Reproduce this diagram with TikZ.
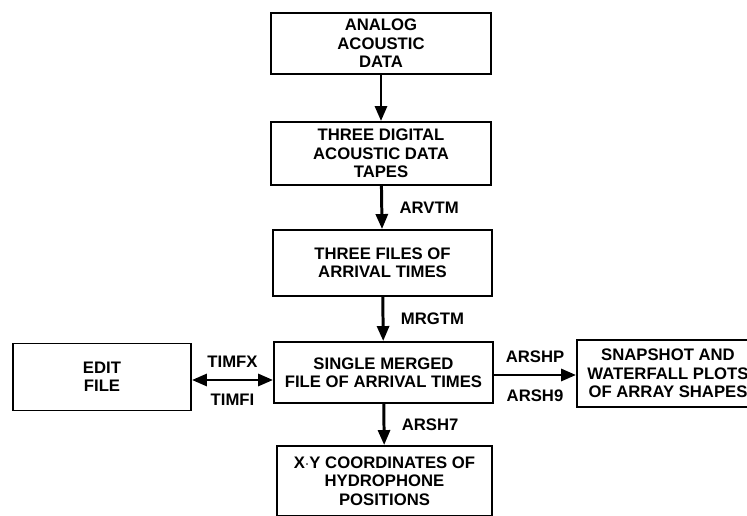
\documentclass[tikz,border=0pt]{standalone}
\usepackage{fontspec}
\setmainfont{Liberation Sans}
\usetikzlibrary{arrows.meta}

\begin{document}
\begin{tikzpicture}[x=0.02cm, y=-0.02cm,
    every node/.style={font=\bfseries\fontsize{9.5}{10.5}\selectfont},
    blk/.style={draw, line width=1.1pt, align=center, inner sep=0pt},
    flow/.style={line width=1.7pt, -{Triangle[length=0.3cm, width=0.24cm]}},
    flow2/.style={line width=1.7pt, {Triangle[length=0.3cm, width=0.24cm]}-{Triangle[length=0.3cm, width=0.24cm]}}]
          \useasboundingbox (0, 0) rectangle (747, 516);
          \clip (0, 0) rectangle (747, 516);
          \node[blk, minimum width=4.4cm, minimum height=1.22cm] (ana) at (381, 43.5) {ANALOG\\ACOUSTIC\\DATA};
          \node[blk, minimum width=4.4cm, minimum height=1.26cm] (dig) at (381, 153.5) {THREE DIGITAL\\ACOUSTIC DATA\\TAPES};
          \node[blk, minimum width=4.38cm, minimum height=1.32cm] (fil) at (382.5, 263) {THREE FILES OF\\ARRIVAL TIMES};
          \node[blk, minimum width=4.38cm, minimum height=1.22cm] (mrg) at (383.5, 372.5) {SINGLE MERGED\\FILE OF ARRIVAL TIMES};
          \node[blk, minimum width=3.56cm, minimum height=1.34cm] (edt) at (102, 377) {EDIT\\FILE};
          \node[blk, minimum width=3.64cm, minimum height=1.34cm] (snp) at (668, 373.5) {SNAPSHOT AND\\WATERFALL PLOTS\\OF ARRAY SHAPES};
          \node[blk, minimum width=4.3cm, minimum height=1.4cm] (xy) at (384.5, 481) {X$\cdot$Y COORDINATES OF\\HYDROPHONE\\POSITIONS};

          \draw[flow] (ana) to (dig);
          \draw[flow] (dig) to node[right=6pt] {ARVTM} (fil);
          \draw[flow] (fil) to node[right=6pt] {MRGTM} (mrg);
          \draw[flow] (mrg) to node[right=6pt] {ARSH7} (xy);
          \draw[flow2] ([yshift=-0.06cm]edt.east) to node[above=3pt] {TIMFX} node[below=4pt] {TIMFI} ([yshift=-0.06cm]edt.east -| mrg.west);
          \draw[flow] ([yshift=-0.05cm]mrg.east) to node[above=3pt] {ARSHP} node[below=4pt] {ARSH9} ([yshift=-0.05cm]mrg.east -| snp.west);
        \end{tikzpicture}
\end{document}
